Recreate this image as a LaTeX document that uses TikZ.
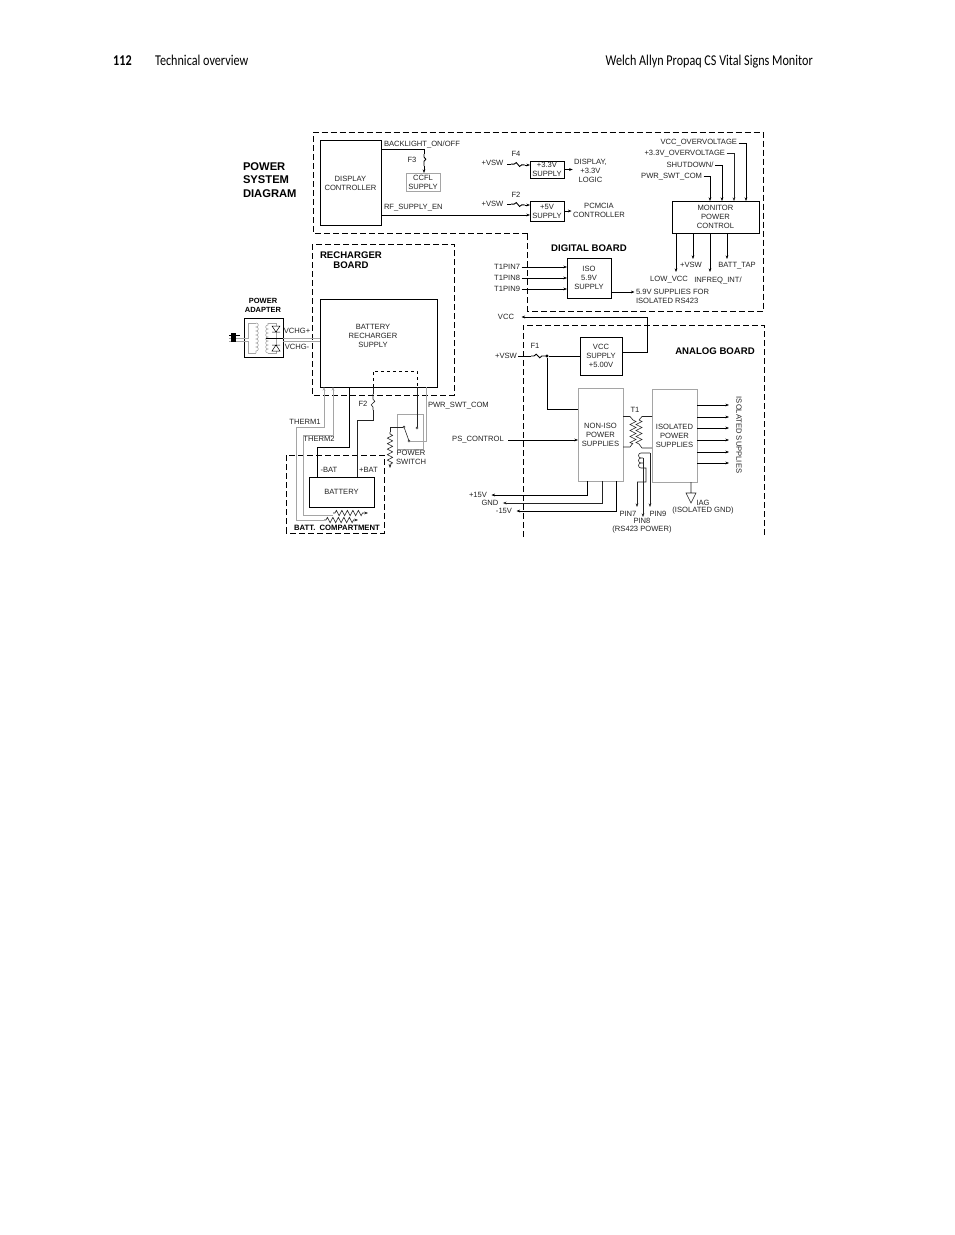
\documentclass[tikz,border=0pt]{standalone}
\usepackage{fontspec}
\setmainfont{Liberation Sans}
\newfontfamily\headfont[FakeStretch=0.81]{Carlito}
\usetikzlibrary{decorations.pathmorphing, arrows.meta}
\definecolor{wiregray}{RGB}{165,165,165}
\definecolor{inkgray}{RGB}{35,35,35}
\tikzset{
  lbl/.style={font=\fontsize{7.6}{9}\selectfont, text=inkgray, inner sep=0pt, outer sep=1.5pt, align=center},
  boldlbl/.style={lbl, font=\fontsize{9.6}{10}\selectfont\bfseries, text=black},
  box/.style={lbl, draw=black, line width=0.9pt, outer sep=0pt},
  graybox/.style={box, draw=wiregray},
  wire/.style={line width=0.9pt},
  thinwire/.style={line width=0.6pt, draw=inkgray},
  graywire/.style={wire, draw=wiregray},
  board/.style={line width=0.9pt, dash pattern=on 6pt off 3pt},
  fuse/.style={decorate, decoration={snake, amplitude=1.8pt, segment length=7pt, pre length=3pt, post length=3pt}},
  resist/.style={decorate, decoration={zigzag, amplitude=2.6pt, segment length=5.5pt, pre length=2pt, post length=3pt}},
  crosscoil/.style={decorate, decoration={zigzag, amplitude=3pt, segment length=6pt}},
  bumpcoil/.style={decorate, decoration={bumps, amplitude=2.4pt, segment length=8pt}},
  dotnode/.style={circle, fill=black, inner sep=0pt, minimum size=3.4pt},
  opennode/.style={circle, draw=inkgray, line width=0.5pt, inner sep=0pt, minimum size=2.2pt},
}
\begin{document}
\begin{tikzpicture}[x=1pt, y=-1pt, >={Stealth[length=3.6pt,width=2.8pt]}]
\path[fill=white] (0,0) rectangle (954,1235);
\useasboundingbox (0,0) rectangle (954,1235);

% page header
\node[anchor=base west, inner sep=0pt, font=\headfont\fontsize{15}{15}\selectfont\bfseries] (pagenum) at (113,65) {112};
\node[anchor=base west, inner sep=0pt, font=\headfont\fontsize{15}{15}\selectfont] (pagetopic) at (155,65) {Technical overview};
\node[anchor=base east, inner sep=0pt, font=\headfont\fontsize{15}{15}\selectfont] (pagetitle) at (813,65) {Welch Allyn Propaq CS Vital Signs Monitor};

% boards
\draw[board] (527.5,233) -- (313,233) -- (313,132) -- (763,132) -- (763,311) -- (527.5,311) -- cycle;
\draw[board] (312,244) rectangle (454,395);
\draw[board] (523,537) -- (523,325) -- (764,325) -- (764,537);
\draw[board] (286,533) rectangle (384,455);

\node[lbl, anchor=west, font=\fontsize{11.2}{13.5}\selectfont\bfseries, text=black, align=left] (systitle) at (241.5,180) {POWER\\SYSTEM\\DIAGRAM};
\node[boldlbl, anchor=north west, align=center] (rechtitle) at (318.5,250.5) {RECHARGER\\BOARD};
\node[boldlbl] (digtitle) at (589,248) {DIGITAL BOARD};
\node[boldlbl] (anatitle) at (715,351) {ANALOG BOARD};
\node[boldlbl, font=\fontsize{7.7}{9}\selectfont\bfseries] (comptitle) at (337,528) {BATT.\ \ COMPARTMENT};
\node[boldlbl, font=\fontsize{7.5}{9}\selectfont\bfseries] (adaptitle) at (263,305.5) {POWER\\ADAPTER};

% display side
\node[box, minimum width=61pt, minimum height=85pt] (dispctl) at (350.5,183) {DISPLAY\\CONTROLLER};
\node[graybox, minimum width=34pt, minimum height=18pt] (ccfl) at (423,182) {CCFL\\SUPPLY};
\node[lbl, anchor=west] (backlight) at (382.5,144.5) {BACKLIGHT\_ON/OFF};
\node[lbl, anchor=west] (rfen) at (382.5,208) {RF\_SUPPLY\_EN};
\node[lbl] (fthree) at (412,160) {F3};
\node[box, minimum width=34pt, minimum height=17pt] (supthree) at (547,169.5) {+3.3V\\SUPPLY};
\node[box, minimum width=34pt, minimum height=20pt] (supfive) at (547,211) {+5V\\SUPPLY};
\node[lbl] (vswthree) at (492.5,162.5) {+VSW};
\node[lbl] (vswfive) at (492.5,203.5) {+VSW};
\node[lbl] (ffour) at (516,154) {F4};
\node[lbl] (ftwo) at (516,195) {F2};
\node[lbl] (displogic) at (590.5,171) {DISPLAY,\\+3.3V\\LOGIC};
\node[lbl] (pcmcia) at (599,210.5) {PCMCIA\\CONTROLLER};
\coordinate (blcorner) at (424,149);
\coordinate (blfuse) at (424,154);
\draw[wire] (dispctl.east |- blcorner) -- (blcorner) -- (blfuse);
\draw[wire, fuse] (blfuse) -- (424,166);
\draw[wire, ->] (424,166) -- (ccfl.north -| blfuse);
\draw[wire, ->] (dispctl.east |- 0,215) -- (supfive.west |- 0,215);
\draw[wire] (507,164) -- (511,164);
\draw[wire, fuse] (511,164) -- (525,165);
\draw[wire, ->] (525,165) -- (supthree.west |- 0,165);
\draw[wire] (507,204) -- (511,204);
\draw[wire, fuse] (511,204) -- (525,205);
\draw[wire, ->] (525,205) -- (supfive.west |- 0,205);
\draw[wire, ->] (supthree.east) -- (displogic.west |- supthree.east);
\draw[wire, ->] (supfive.east) -- (pcmcia.west |- supfive.east);

% monitor control
\node[box, minimum width=87pt, minimum height=32pt] (monctl) at (715.5,217) {MONITOR\\POWER\\CONTROL};
\node[lbl, anchor=east] (vccov) at (738.5,143) {VCC\_OVERVOLTAGE};
\node[lbl, anchor=east] (threeov) at (726.5,153.5) {+3.3V\_OVERVOLTAGE};
\node[lbl, anchor=east] (shutdn) at (715,165) {SHUTDOWN/};
\node[lbl, anchor=east] (pwrcom) at (703.5,176.5) {PWR\_SWT\_COM};
\draw[wire, ->] (vccov.east) -| ([xshift=74pt]monctl.north west);
\draw[thinwire, ->] (threeov.east) -| ([xshift=62pt]monctl.north west);
\draw[wire, ->] (shutdn.east) -| ([xshift=50pt]monctl.north west);
\draw[wire, ->] (pwrcom.east) -| ([xshift=38pt]monctl.north west);
\node[lbl] (vswout) at (691,265) {+VSW};
\node[lbl] (batttap) at (737,266) {BATT\_TAP};
\node[lbl] (lowvcc) at (669,280) {LOW\_VCC};
\node[lbl] (infreq) at (718,280) {INFREQ\_INT/};
\draw[wire, ->] ([xshift=4pt]monctl.south west) -- ++(0,39);
\draw[wire, ->] ([xshift=21pt]monctl.south west) -- ++(0,26);
\draw[wire, ->] ([xshift=38pt]monctl.south west) -- ++(0,39);
\draw[wire, ->] ([xshift=55pt]monctl.south west) -- ++(0,26);

% iso supply
\node[box, minimum width=44pt, minimum height=40pt] (isosup) at (589,278) {ISO\\5.9V\\SUPPLY};
\node[lbl, anchor=east] (pinseven) at (521.5,267) {T1PIN7};
\node[lbl, anchor=east] (pineight) at (521.5,278) {T1PIN8};
\node[lbl, anchor=east] (pinnine) at (521.5,289) {T1PIN9};
\node[lbl, anchor=west, align=left] (isoout) at (634.5,296.5) {5.9V SUPPLIES FOR\\ISOLATED RS423};
\draw[wire, ->] (pinseven.east) -- (isosup.west |- pinseven.east);
\draw[wire, ->] (pineight.east) -- (isosup.west |- pineight.east);
\draw[wire, ->] (pinnine.east) -- (isosup.west |- pinnine.east);
\draw[wire, ->] (isosup.east |- 0,292) -- (isoout.west |- 0,292);

% analog board
\node[box, minimum width=42pt, minimum height=38pt] (vccsup) at (601,356) {VCC\\SUPPLY\\+5.00V};
\node[lbl] (vccend) at (506,317) {VCC};
\coordinate (vcccorner) at (647,317);
\draw[wire, ->] (vccsup.east |- 0,352) -| (vcccorner) -- ([xshift=6pt]vccend.east);
\node[lbl] (vswana) at (506,356) {+VSW};
\node[lbl] (fone) at (535,346) {F1};
\node[dotnode] (vswdot) at (547,356) {};
\node[graybox, minimum width=45pt, minimum height=93pt] (noniso) at (600.5,434.5) {NON-ISO\\POWER\\SUPPLIES};
\node[graybox, minimum width=45pt, minimum height=93pt] (isoler) at (674.5,435.5) {ISOLATED\\POWER\\SUPPLIES};
\draw[wire] (vswana.east) -- (531,356);
\draw[wire, fuse] (531,356) -- (546,356);
\draw[wire] (vswdot) -- (vccsup.west |- vswdot);
\draw[wire] (vswdot) |- (noniso.west |- 0,409);
\node[lbl] (psctl) at (478,440) {PS\_CONTROL};
\draw[wire, ->] ([xshift=3pt]psctl.east) -- (noniso.west |- psctl.east);

% T1
\node[lbl] (tone) at (635,410) {T1};
\draw[thinwire] (noniso.east |- 0,416.5) -- (630,416.5) -- (633,420);
\draw[thinwire] (noniso.east |- 0,447) -- (630,447) -- (633,443);
\draw[thinwire] (isoler.west |- 0,416.5) -- (642,416.5) -- (639,420);
\draw[thinwire] (isoler.west |- 0,448) -- (642,448) -- (639,444);
\draw[thinwire, crosscoil] (633,420) -- (633,444);
\draw[thinwire, crosscoil] (639,420) -- (639,444);
\draw[thinwire] (650,453) -- (641,453) arc (270:90:2.5) -- (643,458) (641,458) arc (270:90:2.5) -- (643,463) (641,463) arc (270:90:2.5) -- (646,468) -- (646,482) -- (637,482);
\draw[thinwire, ->] (637,482) -- (637,507);
\draw[thinwire, ->] (643,458) -- (643,517);
\draw[thinwire, ->] (650,453) -- (650,507);
\node[lbl] (pinsevenl) at (628,514) {PIN7};
\node[lbl] (pineightl) at (642,521) {PIN8};
\node[lbl] (pinninel) at (658,514) {PIN9};
\node[lbl] (rsfour) at (642,530) {(RS423 POWER)};

% isolated outputs
\foreach \yy in {405,417,428,440,452,463}
  \draw[wire, ->] (isoler.east |- 0,\yy) -- (729,\yy);
\node[lbl, rotate=-90] (isosups) at (739,435) {ISOLATED\ SUPPLIES};
\coordinate (iagpt) at (691,493);
\draw[thinwire] (isoler.south -| iagpt) -- (iagpt) (686,493) -- (696,493) -- (691,503) -- cycle;
\node[lbl, anchor=west] (iag) at (695,503) {IAG};
\node[lbl] (isognd) at (703,511) {(ISOLATED GND)};

% rails
\node[lbl] (plusfif) at (478,495) {+15V};
\node[lbl] (gndl) at (490,503) {GND};
\node[lbl] (minusfif) at (504,511) {-15V};
\draw[wire, ->] (noniso.south -| 587,0) |- ([xshift=3pt]plusfif.east);
\draw[thinwire, ->] (noniso.south -| 602,0) |- ([xshift=3pt]gndl.east);
\draw[wire, ->] (noniso.south -| 616,0) |- ([xshift=3pt]minusfif.east);

% recharger
\node[box, minimum width=117pt, minimum height=88pt, anchor=north west] (recharger) at (320,299) {};
\node[lbl] (rechtxt) at (373,335.5) {BATTERY\\RECHARGER\\SUPPLY};
\draw[wire, dashed] (373,387) |- (417,371) -- (417,387);

% adapter
\node[box, minimum width=39pt, minimum height=39pt] (adapter) at (263.5,337.5) {};
\node[lbl] (vchgp) at (297,331) {VCHG+};
\node[lbl] (vchgm) at (297,347) {VCHG-};
\draw[graywire] (adapter.east |- 0,338) -- (recharger.west |- 0,338);
\draw[graywire] (adapter.east |- 0,341) -- (recharger.west |- 0,341);
\draw[graywire, line width=0.7pt] (229,338) -- (248,338) |- (256,323);
\draw[graywire, line width=0.7pt] (229,341) -- (248,341) |- (256,353);
\draw[thinwire, draw=wiregray, bumpcoil] (256,323) -- (256,353);
\draw[thinwire, draw=wiregray, bumpcoil] (268,353) -- (268,323);
\draw[thinwire, draw=wiregray] (268,323) -- (276,323) -- (276,353) -- (268,353);
\draw[line width=0.5pt, fill=white] (272,326) -- (280,326) -- (276,332) -- cycle (272,332) -- (280,332);
\draw[line width=0.5pt, fill=white] (272,351) -- (280,351) -- (276,345) -- cycle (272,345) -- (280,345);
\draw[line width=0.6pt] (266,338) -- (283,338);
\fill (231,333) rectangle (236,342);
\draw[wire] (229,335) -- (240,335);

% battery
\node[box, minimum width=65pt, minimum height=30pt] (battery) at (341.5,492) {BATTERY};
\node[lbl, anchor=west] (negbat) at (319,469.5) {-BAT};
\node[lbl] (posbat) at (368.5,469.5) {+BAT};
\node[lbl] (ftwobat) at (363,404) {F2};
\node[lbl] (thermone) at (305,422) {THERM1};
\node[lbl] (thermtwo) at (319,439) {THERM2};
\draw[wire] ([xshift=29pt]recharger.south west) |- (317,447) -- (battery.north -| 317,0);
\draw[thinwire] (battery.north -| 357,0) |- (373,420) -- (373,410);
\draw[thinwire, fuse] (373,410) -- (373,394);
\draw[thinwire] (373,394) -- ([xshift=53pt]recharger.south west);
\draw[graywire, ->] (296,520) |- (324,427) -- ([xshift=4pt]recharger.south west);
\draw[graywire, ->] (303,515) |- (333,435) -- ([xshift=13pt]recharger.south west);
\draw[graywire] (296,520) -- (324,520);
\draw[graywire] (303,515) -- (333,515);
\draw[thinwire, resist, ->] (324,520) -- (358,520);
\draw[thinwire, resist, ->] (333,513) -- (368,513);

% power switch
\node[graybox, minimum width=26pt, minimum height=35pt] (pwrswitch) at (410,431.5) {};
\node[lbl] (pwrswtxt) at (411,457.5) {POWER\\SWITCH};
\node[lbl, anchor=west] (pwrswcom) at (426.5,406) {PWR\_SWT\_COM};
\node[opennode] (swfixed) at (417,428) {};
\node[opennode] (swleft) at (404,427) {};
\node[opennode] (swblade) at (409,441) {};
\draw[thinwire] ([xshift=97pt]recharger.south west) -- (swfixed);
\draw[thinwire] (swleft) -- (swblade);
\draw[graywire] (swblade) -| ([xshift=106pt]recharger.south west);
\draw[thinwire] (swleft) -- (390,427) -- (390,432);
\draw[thinwire, resist, ->] (390,432) -- (390,468);
\end{tikzpicture}
\end{document}
